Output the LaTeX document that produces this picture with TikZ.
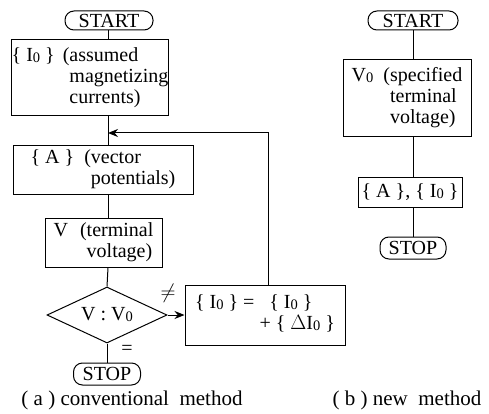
\documentclass[tikz,border=0pt]{standalone}
\usepackage{fontspec}
\setmainfont{Liberation Serif}
\usetikzlibrary{shapes.geometric,arrows.meta}
\newcommand\zsub[1]{\raisebox{-1pt}{\fontsize{14.5}{14.5}\selectfont #1}}
\begin{document}
\begin{tikzpicture}[x=1pt,y=-1pt,
  txt/.style={font=\fontsize{20}{21}\selectfont},
  box/.style={draw, line width=1pt, inner sep=0pt, txt, align=left},
  term/.style={draw, line width=1pt, rounded corners=9pt, inner sep=0pt, txt},
  dec/.style={draw, diamond, line width=1pt, inner sep=0pt, aspect=2.14, txt},
  line/.style={line width=1pt},
  arr/.style={line width=1pt, -{Stealth[length=10pt,width=8pt]}}]
\useasboundingbox (0,0) rectangle (489,414);
% (a)
\node[term, minimum width=88pt, minimum height=19pt] (startA) at (109,20.5) {START};
\node[box, minimum width=154pt, minimum height=76pt] (I0) at (90,78)
  {\begin{tabular}{@{}l@{\hspace{0.4em}}l@{}}\{ I\zsub0 \} & (assumed\\ & \phantom{(}magnetizing\\ & \phantom{(}currents)\end{tabular}};
\node[box, minimum width=180pt, minimum height=48pt] (A) at (103,170)
  {\begin{tabular}{@{}l@{\hspace{0.5em}}l@{}}\{ A \} & (vector\\ & \phantom{(}potentials)\end{tabular}};
\node[box, minimum width=117pt, minimum height=49pt] (V) at (103.5,242.5)
  {\begin{tabular}{@{}l@{\hspace{0.6em}}l@{}}V & (terminal\\ & \phantom{(}voltage)\end{tabular}};
\node[dec, minimum width=120pt, minimum height=56pt] (D) at (107,315) {V : V\zsub0};
\node[term, minimum width=67pt, minimum height=22pt] (stopA) at (107,374) {STOP};
\node[box, minimum width=160pt, minimum height=60pt] (U) at (265,315)
  {\begin{tabular}{@{}p{140pt}@{}}\{ I\zsub0 \} =\ \ \ \{ I\zsub0 \}\\ \hfill + \{ $\Delta$I\zsub0 \}\end{tabular}};
\coordinate (J) at (108,133);
\coordinate (K) at (268,133);
\draw[line] (startA.south -| J) -- (I0.north -| J);
\draw[line] (I0.south -| J) -- (A.north -| J);
\draw[line] (A.south -| J) -- (V.north -| J);
\draw[line] (V.south -| J) -- (D.north);
\draw[line] (D.south) -- (stopA.north);
\draw[arr] (D.east) -- (U.west);
\draw[arr] (U.north -| K) -- (K) -- (J);
\node[txt] (ne) at (168,293) {$\neq$};
\node[txt] (eq) at (127,350) {=};
\node[txt, font=\fontsize{21}{21}\selectfont] (capA) at (132,400) {( a ) conventional\ \ method};
% (b)
\node[term, minimum width=90pt, minimum height=19pt] (startB) at (413,20.5) {START};
\node[box, minimum width=128pt, minimum height=77pt] (V0) at (407,98.5)
  {\begin{tabular}{@{}l@{\hspace{0.5em}}l@{}}V\zsub0 & (specified\\ & \phantom{(}terminal\\ & \phantom{(}voltage)\end{tabular}};
\node[box, minimum width=104pt, minimum height=30pt] (AI) at (410,192) {\{ A \}, \{ I\zsub0 \}};
\node[term, minimum width=66pt, minimum height=22pt] (stopB) at (413,248) {STOP};
\coordinate (L) at (413,0);
\draw[line] (startB.south -| L) -- (V0.north -| L);
\draw[line] (V0.south -| L) -- (AI.north -| L);
\draw[line] (AI.south -| L) -- (stopB.north);
\node[txt, font=\fontsize{21}{21}\selectfont] (capB) at (407,400) {( b ) new\ \ method};
\end{tikzpicture}
\end{document}
